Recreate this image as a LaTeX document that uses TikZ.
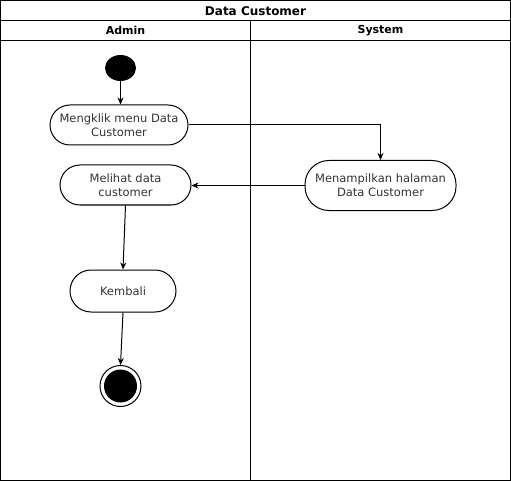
\documentclass[tikz,border=0pt]{standalone}
\usepackage{fontspec}
\setmainfont{DejaVu Sans}
\usetikzlibrary{arrows.meta,shapes.geometric}
\begin{document}
\begin{tikzpicture}[x=1pt,y=-1pt,line width=1pt,
  act/.style={draw, rectangle, rounded corners=20pt, align=center, inner sep=0pt, text=black!80, font=\fontsize{11.5}{14}\selectfont},
  hdr/.style={font=\bfseries\fontsize{11}{13}\selectfont, inner sep=0pt},
  arr/.style={-{Stealth[length=7pt,width=6pt]}}]
\useasboundingbox (0,0) rectangle (511,481);
% frame
\draw (0.5,0.5) rectangle (510.5,480.5);
\draw (0.5,20.5) -- (510.5,20.5);
\draw (0.5,40.5) -- (510.5,40.5);
\draw (250.5,20.5) -- (250.5,480.5);
\node[hdr, font=\bfseries\fontsize{12}{14}\selectfont] (title) at (255.5,11) {Data Customer};
\node[hdr] (lane1) at (125.5,30.5) {Admin};
\node[hdr] (lane2) at (380.5,30.5) {System};
% nodes
\node[ellipse, fill, minimum width=31pt, minimum height=26pt, inner sep=0pt] (start) at (120.5,68) {};
\node[act, minimum width=138pt, minimum height=40pt] (a1) at (119,125) {Mengklik menu Data\\Customer};
\node[act, minimum width=151pt, minimum height=50pt, rounded corners=24pt] (a2) at (380.5,185.5) {Menampilkan halaman\\Data Customer};
\node[act, minimum width=131pt, minimum height=40pt] (a3) at (125.5,185) {Melihat data\\customer};
\node[act, minimum width=106pt, minimum height=42pt, rounded corners=21pt] (a4) at (123,291) {Kembali};
\node[circle, draw, minimum size=41pt, inner sep=0pt] (end) at (120.5,386) {};
\fill (end.center) circle (16.5pt);
% edges
\draw[arr] (start.south) -- (start.south |- a1.north);
\draw[arr] (a1.east) -| (a2.north);
\draw[arr] (a2.west) -- (a3.east |- a2.west);
\draw[arr] (a3.south) -- (a4.north);
\draw[arr] (a4.south) -- (end.north);
\end{tikzpicture}
\end{document}
